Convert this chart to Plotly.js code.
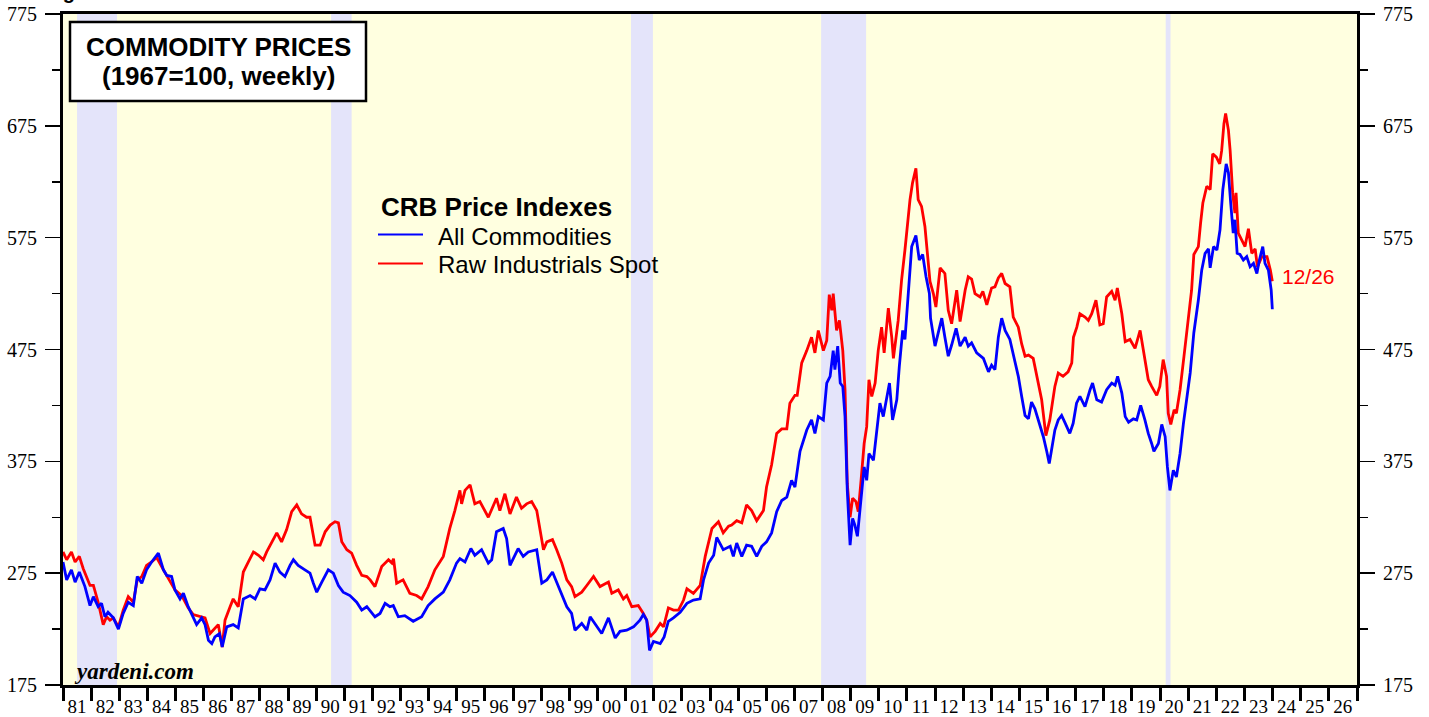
<!DOCTYPE html>
<html><head><meta charset="utf-8">
<script src="https://cdn.plot.ly/plotly-3.0.1.min.js"></script>
<style>html,body{margin:0;padding:0;background:#fff;overflow:hidden}#chart{width:1429px;height:717px}</style>
</head><body><div id="chart"></div>
<script>
// ---- Data (decimal years, index 1967=100) ----
const yearTicks = [1981,1982,1983,1984,1985,1986,1987,1988,1989,1990,1991,1992,1993,1994,1995,1996,1997,1998,1999,2000,2001,2002,2003,2004,2005,2006,2007,2008,2009,2010,2011,2012,2013,2014,2015,2016,2017,2018,2019,2020,2021,2022,2023,2024,2025,2026,2027];
const yearLabels = ['81','82','83','84','85','86','87','88','89','90','91','92','93','94','95','96','97','98','99','00','01','02','03','04','05','06','07','08','09','10','11','12','13','14','15','16','17','18','19','20','21','22','23','24','25','26',''];

const recessionStart = [1981.50, 1990.53, 2001.19, 2007.95, 2020.20];
const recessionEnd   = [1982.92, 1991.26, 2001.97, 2009.55, 2020.37];

const rawIndDates = [1981.0,1981.13,1981.3,1981.43,1981.58,1981.72,1981.96,1982.08,1982.25,1982.43,1982.55,1982.67,1982.79,1982.97,1983.14,1983.32,1983.5,1983.64,1983.8,1983.97,1984.15,1984.33,1984.57,1984.75,1984.98,1985.22,1985.45,1985.63,1985.87,1986.05,1986.23,1986.4,1986.52,1986.66,1986.76,1986.94,1987.05,1987.23,1987.41,1987.59,1987.77,1987.95,1988.12,1988.24,1988.48,1988.6,1988.77,1988.95,1989.13,1989.31,1989.48,1989.66,1989.78,1989.96,1990.14,1990.32,1990.5,1990.67,1990.79,1990.91,1991.09,1991.26,1991.44,1991.62,1991.8,1991.92,1992.09,1992.33,1992.57,1992.69,1992.75,1992.86,1993.09,1993.33,1993.57,1993.75,1993.98,1994.22,1994.52,1994.75,1994.93,1995.11,1995.17,1995.29,1995.47,1995.64,1995.82,1995.94,1996.12,1996.41,1996.53,1996.71,1996.89,1997.12,1997.3,1997.48,1997.66,1997.84,1997.96,1998.08,1998.2,1998.4,1998.55,1998.73,1998.91,1999.08,1999.2,1999.44,1999.62,1999.86,2000.09,2000.39,2000.51,2000.74,2000.92,2001.04,2001.22,2001.45,2001.63,2001.75,2001.87,2002.05,2002.23,2002.35,2002.52,2002.7,2002.88,2003.06,2003.18,2003.41,2003.65,2003.83,2004.07,2004.3,2004.47,2004.66,2004.77,2004.95,2005.13,2005.3,2005.48,2005.66,2005.9,2006.01,2006.19,2006.37,2006.55,2006.73,2006.84,2007.02,2007.1,2007.26,2007.44,2007.61,2007.73,2007.85,2008.03,2008.15,2008.24,2008.33,2008.38,2008.5,2008.6,2008.72,2008.8,2008.88,2008.98,2009.07,2009.19,2009.27,2009.37,2009.48,2009.57,2009.65,2009.75,2009.87,2009.98,2010.1,2010.19,2010.34,2010.46,2010.52,2010.69,2010.81,2010.93,2011.11,2011.2,2011.32,2011.4,2011.52,2011.64,2011.7,2011.82,2011.94,2012.03,2012.18,2012.35,2012.47,2012.59,2012.77,2012.89,2013.07,2013.18,2013.3,2013.42,2013.6,2013.7,2013.84,2014.01,2014.13,2014.25,2014.37,2014.49,2014.66,2014.78,2014.96,2015.08,2015.2,2015.32,2015.49,2015.61,2015.79,2015.94,2016.08,2016.26,2016.38,2016.55,2016.73,2016.86,2016.92,2017.04,2017.15,2017.33,2017.45,2017.57,2017.72,2017.86,2017.98,2018.1,2018.28,2018.4,2018.48,2018.64,2018.76,2018.93,2019.11,2019.29,2019.46,2019.58,2019.7,2019.88,2019.99,2020.11,2020.23,2020.29,2020.38,2020.5,2020.58,2020.71,2020.85,2021.0,2021.12,2021.2,2021.36,2021.44,2021.52,2021.66,2021.78,2021.87,2022.0,2022.12,2022.19,2022.27,2022.33,2022.43,2022.49,2022.58,2022.66,2022.7,2022.78,2022.9,2023.02,2023.14,2023.26,2023.38,2023.46,2023.62,2023.8,2023.92,2023.99];
const rawIndValues = [294,287,294,285,290,279,264,264,249,229,236,233,235,227,242,254,249,269,272,282,285,289,278,270,260,255,244,238,236,235,221,226,229,209,233,245,252,245,276,285,294,291,287,294,305,311,303,314,330,336,328,325,325,300,300,312,318,321,320,303,296,293,282,273,272,269,263,281,287,284,288,266,269,257,255,252,263,278,290,315,331,349,337,349,354,337,339,333,325,342,331,346,328,343,333,337,339,331,314,296,303,305,296,284,269,263,254,258,264,272,263,267,257,260,252,255,245,246,239,233,218,223,230,227,244,242,242,251,261,257,264,290,315,321,311,317,318,322,320,336,331,322,331,352,372,400,404,404,427,434,434,463,474,486,472,492,474,483,524,510,525,492,501,474,439,355,325,342,339,330,358,391,406,448,433,445,474,495,472,512,486,467,501,537,564,609,624,637,609,603,585,567,536,525,513,548,543,510,498,528,500,528,540,538,525,522,527,515,530,531,539,543,534,531,504,495,480,469,470,467,451,430,398,412,442,454,451,455,463,486,495,507,504,501,507,519,497,498,522,527,519,530,507,482,484,476,492,466,448,442,434,442,466,451,418,408,421,418,439,469,504,528,560,567,588,606,621,618,650,647,641,653,677,686,671,653,615,597,615,579,573,567,583,561,565,549,558,558,546,536];

const allCommDates = [1981.0,1981.13,1981.3,1981.43,1981.58,1981.78,1981.96,1982.08,1982.25,1982.37,1982.49,1982.6,1982.79,1982.97,1983.14,1983.32,1983.5,1983.64,1983.8,1983.97,1984.15,1984.39,1984.57,1984.69,1984.86,1984.98,1985.16,1985.28,1985.45,1985.63,1985.75,1985.93,1986.05,1986.17,1986.29,1986.4,1986.56,1986.66,1986.82,1987.05,1987.23,1987.41,1987.65,1987.83,1988.0,1988.18,1988.36,1988.54,1988.71,1988.89,1989.07,1989.19,1989.36,1989.6,1989.78,1989.9,1990.02,1990.2,1990.43,1990.61,1990.79,1990.96,1991.2,1991.44,1991.62,1991.8,1992.09,1992.27,1992.45,1992.62,1992.74,1992.92,1993.15,1993.45,1993.75,1993.98,1994.22,1994.52,1994.75,1994.99,1995.11,1995.29,1995.5,1995.64,1995.88,1996.12,1996.24,1996.41,1996.65,1996.77,1996.89,1997.18,1997.36,1997.54,1997.84,1998.02,1998.2,1998.4,1998.55,1998.73,1998.91,1999.08,1999.2,1999.44,1999.62,1999.74,1999.92,2000.15,2000.39,2000.63,2000.8,2001.04,2001.28,2001.51,2001.63,2001.75,2001.85,2001.99,2002.23,2002.37,2002.52,2002.7,2002.94,2003.18,2003.41,2003.65,2003.77,2003.95,2004.13,2004.24,2004.47,2004.72,2004.83,2004.95,2005.13,2005.3,2005.48,2005.66,2005.84,2006.01,2006.19,2006.37,2006.55,2006.73,2006.9,2007.02,2007.2,2007.44,2007.61,2007.73,2007.85,2008.03,2008.15,2008.27,2008.38,2008.44,2008.54,2008.63,2008.72,2008.8,2008.88,2008.98,2009.07,2009.15,2009.24,2009.36,2009.48,2009.57,2009.65,2009.81,2009.92,2010.04,2010.16,2010.28,2010.38,2010.49,2010.64,2010.73,2010.85,2010.93,2011.05,2011.17,2011.32,2011.44,2011.56,2011.68,2011.8,2011.84,2012.0,2012.12,2012.24,2012.35,2012.47,2012.59,2012.75,2012.89,2013.07,2013.18,2013.3,2013.48,2013.72,2013.9,2014.01,2014.13,2014.25,2014.37,2014.49,2014.66,2014.84,2014.96,2015.08,2015.2,2015.32,2015.43,2015.55,2015.67,2015.85,2015.97,2016.06,2016.14,2016.26,2016.38,2016.5,2016.61,2016.79,2016.91,2017.03,2017.15,2017.33,2017.51,2017.6,2017.75,2017.92,2018.1,2018.28,2018.4,2018.49,2018.64,2018.76,2018.88,2019.05,2019.17,2019.31,2019.46,2019.58,2019.7,2019.78,2019.94,2020.06,2020.18,2020.26,2020.35,2020.47,2020.58,2020.71,2020.83,2020.95,2021.07,2021.2,2021.36,2021.48,2021.6,2021.72,2021.78,2021.9,2022.02,2022.13,2022.23,2022.35,2022.43,2022.51,2022.6,2022.66,2022.74,2022.84,2022.96,2023.08,2023.2,2023.32,2023.44,2023.53,2023.65,2023.73,2023.85,2023.95,2023.99];
const allCommValues = [285,269,278,267,276,263,246,254,245,248,236,240,235,225,239,249,246,272,266,278,285,293,278,273,272,260,252,257,245,236,229,235,229,215,212,218,221,209,227,229,226,252,255,252,261,260,269,284,276,272,282,287,282,278,275,266,258,267,278,275,264,258,255,249,242,245,236,239,248,245,246,236,237,232,236,246,252,258,269,284,288,285,297,291,296,284,287,312,315,306,282,297,290,294,296,266,269,276,267,255,245,239,224,230,224,236,229,221,235,217,223,224,227,233,238,233,206,214,212,218,232,235,240,248,251,252,269,284,291,307,296,299,290,302,290,300,299,290,299,303,311,330,340,343,358,352,384,403,412,400,415,412,445,451,474,457,478,445,442,415,349,300,324,318,308,338,370,358,382,376,403,427,415,430,445,412,430,460,492,484,528,567,577,555,560,540,525,503,478,492,503,486,469,479,494,478,486,478,481,472,467,455,461,457,486,503,492,484,463,451,433,416,413,428,422,412,397,384,373,385,403,412,416,410,400,409,427,433,424,439,445,430,428,439,445,443,451,436,415,410,413,412,425,412,400,391,384,391,408,397,370,349,367,361,382,409,430,454,490,519,546,561,565,548,567,564,582,618,641,633,606,579,591,561,560,555,558,549,552,543,555,567,552,546,528,511];

// ---- helpers for paper positions (pixel -> paper) ----
const W = 1429, H = 717, L = 63, R = 72, T = 14, B = 32;
const pw = W - L - R, ph = H - T - B;
const px = p => (p - L) / pw;
const py = p => (H - B - p) / ph;

const serif = 'Liberation Serif, Times New Roman, serif';
const sans = 'Liberation Sans, Arial, sans-serif';

const traces = [
  {x: rawIndDates, y: rawIndValues, type: 'scatter', mode: 'lines', name: 'Raw Industrials Spot',
   line: {color: '#ff0000', width: 2.8}, hoverinfo: 'skip'},
  {x: allCommDates, y: allCommValues, type: 'scatter', mode: 'lines', name: 'All Commodities',
   line: {color: '#0000ff', width: 2.8}, hoverinfo: 'skip'},
  {x: [], y: [], yaxis: 'y2', type: 'scatter', mode: 'lines', showlegend: false, hoverinfo: 'skip'}
];

const shapes = recessionStart.map((s, i) => ({
  type: 'rect', xref: 'x', yref: 'paper', x0: s, x1: recessionEnd[i], y0: 0, y1: 1,
  fillcolor: 'rgb(228,228,250)', line: {width: 0}, layer: 'below'
}));
// title box
shapes.push({type: 'rect', xref: 'paper', yref: 'paper', x0: px(70), x1: px(366), y0: py(101), y1: py(22),
  fillcolor: '#ffffff', line: {color: '#000000', width: 2.5}, layer: 'above'});
// legend line samples
shapes.push({type: 'line', xref: 'paper', yref: 'paper', x0: px(378), x1: px(423), y0: py(234.5), y1: py(234.5),
  line: {color: '#0000ff', width: 2.2}});
shapes.push({type: 'line', xref: 'paper', yref: 'paper', x0: px(378), x1: px(423), y0: py(263.5), y1: py(263.5),
  line: {color: '#ff0000', width: 2.2}});

const ann = (text, x, y, opts) => Object.assign({text, xref: 'paper', yref: 'paper', x, y,
  showarrow: false, xanchor: 'left', yanchor: 'middle', borderpad: 0}, opts || {});

const annotations = [
  ann('<b>COMMODITY PRICES</b>', px(218), py(47.5), {xanchor: 'center', font: {family: sans, size: 26, color: '#000'}}),
  ann('<b>(1967=100, weekly)</b>', px(218), py(76), {xanchor: 'center', font: {family: sans, size: 26, color: '#000'}}),
  ann('<b>CRB Price Indexes</b>', px(380), py(207), {font: {family: sans, size: 26, color: '#000'}}),
  ann('All Commodities', px(437), py(237), {font: {family: sans, size: 24, color: '#000'}}),
  ann('Raw Industrials Spot', px(437), py(264), {font: {family: sans, size: 24, color: '#000'}}),
  ann('12/26', px(1281), py(276), {font: {family: sans, size: 21, color: '#ff0000'}}),
  ann('<b><i>yardeni.com</i></b>', px(73), py(671), {font: {family: serif, size: 23, color: '#000'}}),
  ann('<b>Figure 1.</b>', px(44), py(4), {yanchor: 'bottom', font: {family: sans, size: 20, color: '#000'}})
];

const yCommon = {
  range: [175, 775], tickmode: 'linear', tick0: 175, dtick: 100,
  ticks: 'outside', ticklen: 15, tickwidth: 1.5, tickcolor: '#000',
  minor: {tick0: 175, dtick: 50, ticks: 'outside', ticklen: 8, tickwidth: 1.5, tickcolor: '#000'},
  showgrid: false, zeroline: false, fixedrange: true,
  tickfont: {family: serif, size: 20, color: '#000'}, ticklabelstandoff: 4,
  showline: true, linecolor: '#000', linewidth: 3
};

const layout = {
  width: W, height: H,
  margin: {l: L, r: R, t: T, b: B, pad: 0},
  paper_bgcolor: '#ffffff', plot_bgcolor: '#ffffe0',
  showlegend: false, hovermode: false,
  xaxis: {
    range: [1981, 2027], tickmode: 'array', tickvals: yearTicks, ticktext: yearLabels,
    ticks: 'outside', ticklen: 13, tickwidth: 3, tickcolor: '#000',
    ticklabelshift: 14, ticklabelstandoff: -11,
    tickfont: {family: serif, size: 19, color: '#000'},
    showgrid: false, zeroline: false, fixedrange: true,
    showline: true, mirror: true, linecolor: '#000', linewidth: 3
  },
  yaxis: Object.assign({}, yCommon, {side: 'left', mirror: false}),
  yaxis2: Object.assign({}, yCommon, {side: 'right', overlaying: 'y', anchor: 'x'}),
  shapes, annotations
};

Plotly.newPlot('chart', traces, layout, {displayModeBar: false, staticPlot: true});
</script></body></html>
